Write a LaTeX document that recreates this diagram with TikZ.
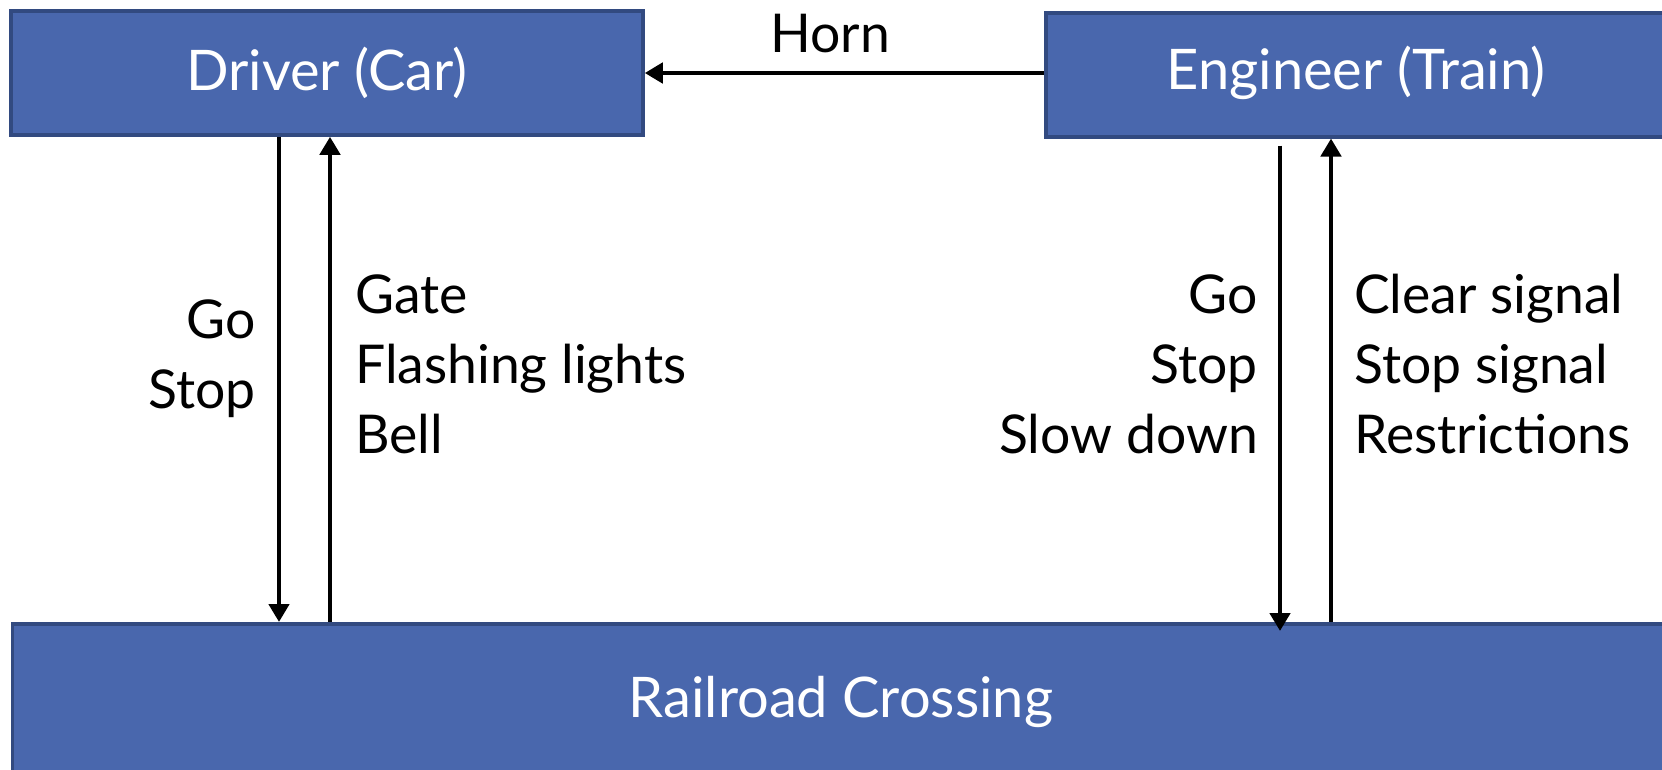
\documentclass[tikz,border=0pt]{standalone}
\usepackage{fontspec}
\setmainfont{Lato}
\usetikzlibrary{arrows.meta}
\definecolor{boxfill}{RGB}{73,103,173}
\definecolor{boxline}{RGB}{50,74,128}
\tikzset{
  box/.style={draw=boxline, line width=3.5pt, fill=boxfill, inner sep=0pt},
  boxtext/.style={text=white, font=\fontsize{56}{64}\selectfont, inner sep=0pt},
  lbl/.style={font=\fontsize{53.5}{70}\selectfont, inner sep=0pt},
  arr/.style={line width=4.5pt, -{Triangle[length=18pt,width=20pt]}}
}
\begin{document}
\begin{tikzpicture}[x=1pt,y=-1pt]
\useasboundingbox (0,0) rectangle (1662,769);
\node[box, minimum width=632pt, minimum height=124pt] (drv) at (327,73) {};
\node[boxtext] (drvt) at (327,73) {Driver (Car)};
\node[box, minimum width=640pt, minimum height=124pt, anchor=north west] (eng) at (1044,11) {};
\node[boxtext] (engt) at (1356,73) {Engineer (Train)};
\node[box, minimum width=1670pt, minimum height=170pt, anchor=north west] (rr) at (10.6,622) {};
\node[boxtext] (rrt) at (841,702) {Railroad Crossing};
\node[lbl] (horn) at (830,34) {Horn};
\draw[arr] (eng.west |- 0,73) -- (drv.east |- 0,73);
\coordinate (d1) at (279,0);
\coordinate (d2) at (330,0);
\coordinate (e1) at (1280,0);
\coordinate (e2) at (1331,0);
\draw[arr] (drv.south -| d1) -- (rr.north -| d1);
\draw[arr] (rr.north -| d2) -- (drv.south -| d2);
\draw[arr] ([yshift=-7pt]eng.south -| e1) -- ([yshift=-9pt]rr.north -| e1);
\draw[arr] (rr.north -| e2) -- (eng.south -| e2);
\node[lbl, align=right, anchor=east] (ds) at (256,359) {Go\\Stop};
\node[lbl, align=left, anchor=west] (dg) at (355,364) {Gate\\Flashing lights\\Bell};
\node[lbl, align=right, anchor=east] (es) at (1258,364) {Go\\Stop\\Slow down};
\node[lbl, align=left, anchor=west] (eg) at (1354,364) {Clear signal\\Stop signal\\Restrictions};
\end{tikzpicture}
\end{document}
